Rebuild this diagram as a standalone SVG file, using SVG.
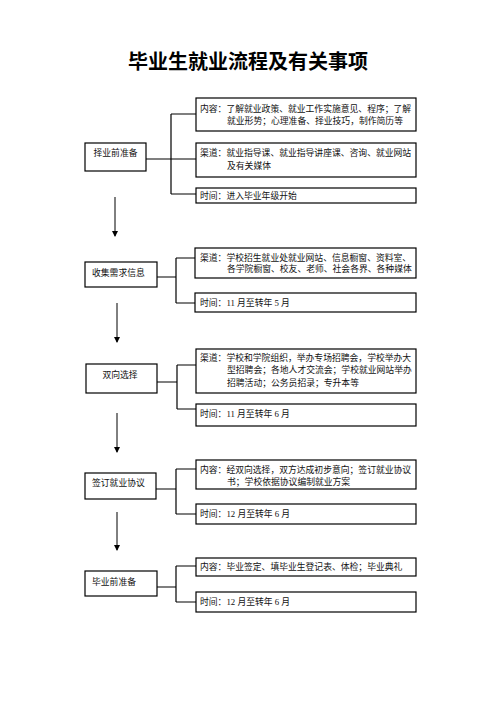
<svg xmlns="http://www.w3.org/2000/svg" width="496" height="702" viewBox="0 0 496 702">
<style>
.box{fill:#fff;stroke:#000;stroke-width:1.2}
.ln{fill:none;stroke:#000;stroke-width:1.2}
.ar{fill:none;stroke:#000;stroke-width:1}
text{font-family:"Liberation Serif","Noto Sans CJK SC",serif;font-size:8.8px;fill:#111}
.title{font-family:"Noto Sans CJK SC",sans-serif;font-size:20px;font-weight:bold;fill:#000}
</style>
<defs>
<marker id="ah" viewBox="0 0 6 6" refX="5" refY="3" markerWidth="6" markerHeight="6" markerUnits="userSpaceOnUse" orient="auto">
<path d="M0,0 L6,3 L0,6 z" fill="#000"/>
</marker>
</defs>
<rect width="496" height="702" fill="#fff"/>
<text class="title" x="248" y="69" text-anchor="middle">毕业生就业流程及有关事项</text>

<g id="connectors">
<path class="ln" d="M146,159 H196 M171,114 V194 M171,114 H196 M171,194 H196"/>
<path class="ln" d="M157,277 H176 M176,258 V303 M176,258 H195 M176,303 H195"/>
<path class="ln" d="M157,382 H177 M177,365 V409 M177,365 H196 M177,409 H196"/>
<path class="ln" d="M156,489 H176 M176,469 V514 M176,469 H196 M176,514 H196"/>
<path class="ln" d="M157,587 H176 M176,566 V602 M176,566 H196 M176,602 H196"/>
<line class="ar" x1="115" y1="197" x2="115" y2="236" marker-end="url(#ah)"/>
<line class="ar" x1="117" y1="303" x2="117" y2="342" marker-end="url(#ah)"/>
<line class="ar" x1="117" y1="413" x2="117" y2="452" marker-end="url(#ah)"/>
<line class="ar" x1="117" y1="512" x2="117" y2="550" marker-end="url(#ah)"/>
</g>

<g id="n1">
<rect class="box" x="85" y="143" width="61" height="28"/>
<text x="115.5" y="156" text-anchor="middle">择业前准备</text>
</g>
<g id="n1a">
<rect class="box" x="196" y="98" width="220" height="33"/>
<text x="200" y="112">内容：了解就业政策、就业工作实施意见、程序；了解</text>
<text x="227" y="124">就业形势；心理准备、择业技巧，制作简历等</text>
</g>
<g id="n1b">
<rect class="box" x="196" y="143" width="220" height="34"/>
<text x="200" y="156">渠道：就业指导课、就业指导讲座课、咨询、就业网站</text>
<text x="227" y="169">及有关媒体</text>
</g>
<g id="n1c">
<rect class="box" x="196" y="188" width="220" height="15"/>
<text x="200" y="198.5">时间：进入毕业年级开始</text>
</g>

<g id="n2">
<rect class="box" x="85" y="262" width="72" height="25"/>
<text x="92" y="276">收集需求信息</text>
</g>
<g id="n2a">
<rect class="box" x="195" y="248" width="221" height="30"/>
<text x="200" y="261">渠道：学校招生就业处就业网站、信息橱窗、资料室、</text>
<text x="227" y="272">各学院橱窗、校友、老师、社会各界、各种媒体</text>
</g>
<g id="n2b">
<rect class="box" x="195" y="293" width="221" height="19"/>
<text x="200" y="306">时间：11 月至转年 5 月</text>
</g>

<g id="n3">
<rect class="box" x="86" y="364" width="71" height="29"/>
<text x="120" y="378" text-anchor="middle">双向选择</text>
</g>
<g id="n3a">
<rect class="box" x="196" y="349" width="220" height="44"/>
<text x="200" y="361">渠道：学校和学院组织，举办专场招聘会，学校举办大</text>
<text x="227" y="373">型招聘会；各地人才交流会；学校就业网站举办</text>
<text x="227" y="386">招聘活动；公务员招录；专升本等</text>
</g>
<g id="n3b">
<rect class="box" x="196" y="404" width="220" height="22"/>
<text x="200" y="417">时间：11 月至转年 6 月</text>
</g>

<g id="n4">
<rect class="box" x="85" y="473" width="71" height="26"/>
<text x="92" y="486">签订就业协议</text>
</g>
<g id="n4a">
<rect class="box" x="196" y="460" width="220" height="29"/>
<text x="200" y="473">内容：经双向选择，双方达成初步意向；签订就业协议</text>
<text x="227" y="485">书；学校依据协议编制就业方案</text>
</g>
<g id="n4b">
<rect class="box" x="196" y="504" width="220" height="20"/>
<text x="200" y="517">时间：12 月至转年 6 月</text>
</g>

<g id="n5">
<rect class="box" x="85" y="571" width="72" height="25"/>
<text x="92" y="585">毕业前准备</text>
</g>
<g id="n5a">
<rect class="box" x="196" y="558" width="220" height="18"/>
<text x="200" y="570">内容：毕业签定、填毕业生登记表、体检；毕业典礼</text>
</g>
<g id="n5b">
<rect class="box" x="196" y="592" width="220" height="20"/>
<text x="200" y="605">时间：12 月至转年 6 月</text>
</g>
</svg>
